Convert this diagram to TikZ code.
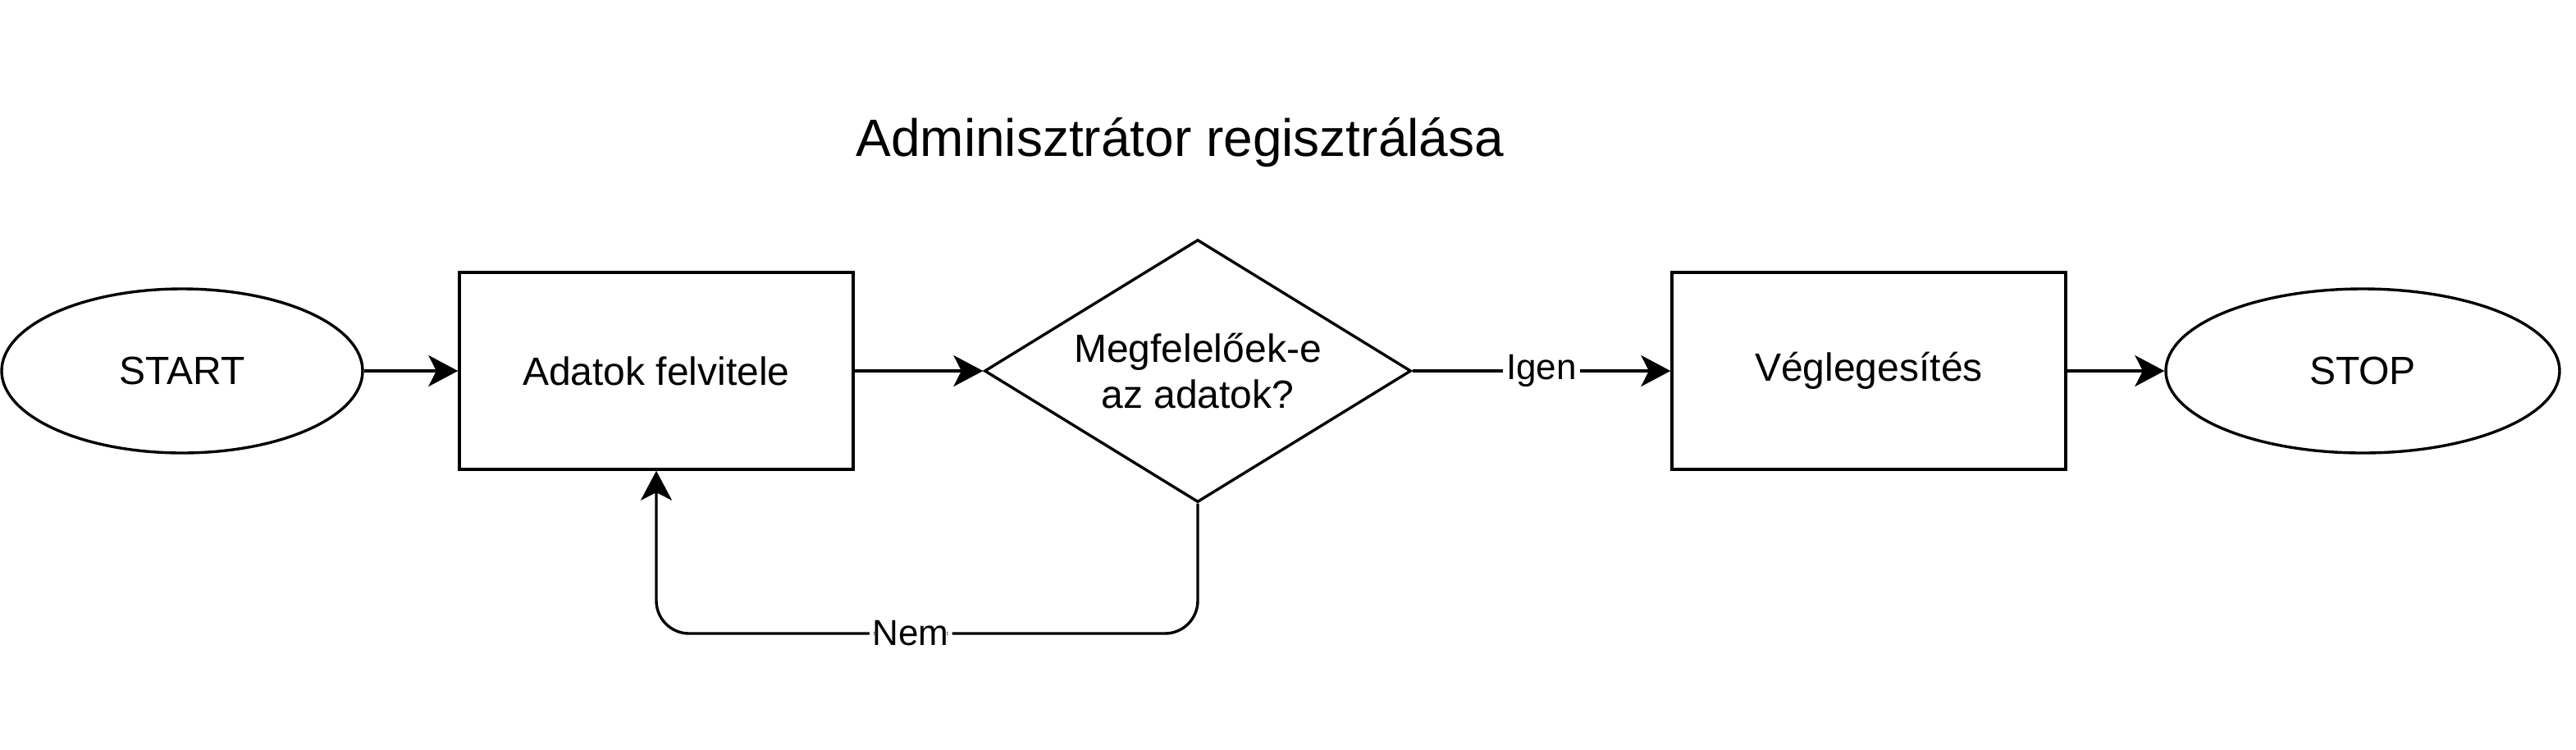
\documentclass[tikz,border=0pt]{standalone}
\usepackage{fontspec}
\setmainfont{Liberation Sans}
\usetikzlibrary{shapes.geometric,arrows.meta}
\begin{document}
\begin{tikzpicture}[x=1pt,y=-1pt,
  every node/.style={font=\fontsize{12}{14}\selectfont, line width=0.85pt},
  term/.style={draw, ellipse, minimum width=110pt, minimum height=50pt, inner sep=0pt},
  proc/.style={draw, rectangle, minimum width=120pt, minimum height=60pt, inner sep=0pt},
  decide/.style={draw, diamond, aspect=1.625, minimum width=130pt, minimum height=80pt, inner sep=0pt, align=center},
  conn/.style={line width=0.85pt, -{Stealth[length=9pt,width=9.5pt,inset=2.4pt]}},
  lbl/.style={fill=white, inner sep=1pt, font=\fontsize{11}{13}\selectfont}
]
\useasboundingbox (0,0) rectangle (785,228.25);
\node[anchor=base, font=\fontsize{16}{19}\selectfont] (title) at (359.6,47.5) {Adminisztrátor regisztrálása};
\node[term] (start) at (55.5,113) {START};
\node[proc] (input) at (200,113) {Adatok felvitele};
\node[decide] (check) at (365,113) {Megfelelőek-e\\az adatok?};
\node[proc] (final) at (569.5,113) {Véglegesítés};
\node[term, minimum width=120pt] (stop) at (720,113) {STOP};
\coordinate (c1) at (365,193);
\coordinate (c2) at (200,193);
\draw[conn] (start.east) -- (input.west);
\draw[conn] (input.east) -- (check.west);
\draw[conn] (check.east) -- node[lbl] (igen) {Igen} (final.west);
\draw[conn] (final.east) -- (stop.west);
\draw[conn, rounded corners=10pt] (check.south) -- (c1) -- node[lbl, pos=0.53] (nem) {Nem} (c2) -- (input.south);
\end{tikzpicture}
\end{document}
